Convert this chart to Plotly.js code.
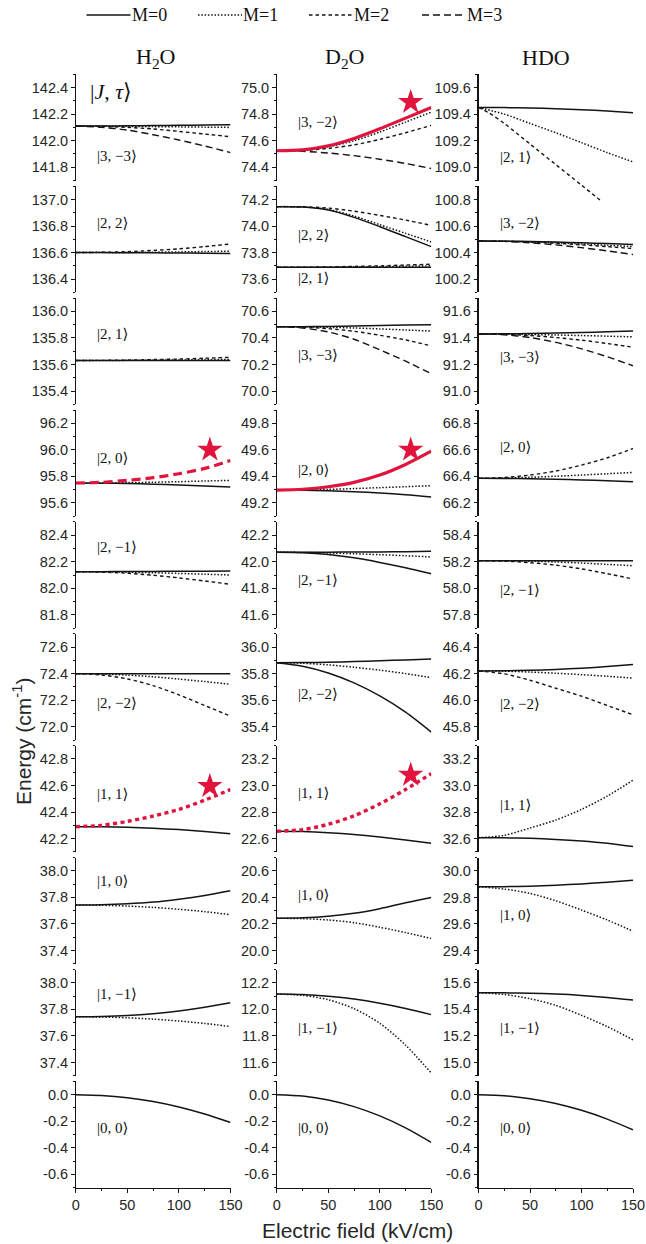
<!DOCTYPE html>
<html><head><meta charset="utf-8">
<script src="https://cdn.plot.ly/plotly-3.0.1.min.js"></script>
<style>html,body{margin:0;padding:0;background:#fff}</style>
</head><body><div id="chart" style="width:646px;height:1244px"></div>
<script>
// ---------------- DATA ----------------
const FIELD = [0, 25, 50, 75, 100, 125, 150];
const FIELD_HDO_R1_M2 = [0, 10, 25, 50, 75, 100, 120];

const MOLECULES = ['H<sub>2</sub>O', 'D<sub>2</sub>O', 'HDO'];
const MOL_TITLE_X = [155, 344, 546];

// axis lower bounds for each row (range is lower..lower+0.8)
const H2O_YMIN = [141.7, 136.3, 135.3, 95.5, 81.7, 71.9, 42.1, 37.3, 37.3, -0.7];
const D2O_YMIN = [74.3, 73.5, 69.9, 49.1, 41.5, 35.3, 22.5, 19.9, 11.5, -0.7];
const HDO_YMIN = [108.9, 100.1, 90.9, 66.1, 57.7, 45.7, 32.5, 29.3, 14.9, -0.7];

// state labels
const H2O_LABELS = ['|3, −3⟩', '|2, 2⟩', '|2, 1⟩', '|2, 0⟩', '|2, −1⟩', '|2, −2⟩', '|1, 1⟩', '|1, 0⟩', '|1, −1⟩', '|0, 0⟩'];
const H2O_LABEL_Y = [141.886, 136.82, 135.83, 95.94, 82.31, 72.18, 42.535, 37.92, 37.915, -0.254];
const D2O_LABELS = ['|3, −2⟩', '|2, 2⟩', '|3, −3⟩', '|2, 0⟩', '|2, −1⟩', '|2, −2⟩', '|1, 1⟩', '|1, 0⟩', '|1, −1⟩', '|0, 0⟩'];
const D2O_LABEL_Y = [74.74, 73.93, 70.27, 49.45, 41.86, 35.645, 22.94, 20.42, 11.856, -0.254];
const D2O_EXTRA_LABEL = '|2, 1⟩';
const D2O_EXTRA_LABEL_Y = 73.605;
const HDO_LABELS = ['|2, 1⟩', '|3, −2⟩', '|3, −3⟩', '|2, 0⟩', '|2, −1⟩', '|2, −2⟩', '|1, 1⟩', '|1, 0⟩', '|1, −1⟩', '|0, 0⟩'];
const HDO_LABEL_Y = [109.08, 100.625, 91.255, 66.62, 57.99, 45.97, 32.85, 29.67, 15.26, -0.254];

// ---- H2O ----
const H2O_R1_M0 = [142.11, 142.11, 142.112, 142.114, 142.116, 142.118, 142.12];
const H2O_R1_M1 = [142.11, 142.11, 142.108, 142.106, 142.104, 142.102, 142.10];
const H2O_R1_M2 = [142.11, 142.108, 142.10, 142.088, 142.07, 142.05, 142.03];
const H2O_R1_M3 = [142.11, 142.10, 142.08, 142.045, 142.005, 141.96, 141.91];
const H2O_R2_M0 = [136.60, 136.60, 136.599, 136.598, 136.597, 136.595, 136.593];
const H2O_R2_M1 = [136.60, 136.60, 136.601, 136.603, 136.605, 136.608, 136.61];
const H2O_R2_M2 = [136.60, 136.602, 136.607, 136.616, 136.628, 136.645, 136.665];
const H2O_R3_M0 = [135.63, 135.63, 135.63, 135.63, 135.63, 135.63, 135.63];
const H2O_R3_M1 = [135.63, 135.63, 135.631, 135.632, 135.634, 135.636, 135.638];
const H2O_R3_M2 = [135.63, 135.631, 135.633, 135.637, 135.641, 135.647, 135.654];
const H2O_R4_M0 = [95.75, 95.749, 95.746, 95.741, 95.735, 95.727, 95.72];
const H2O_R4_M1 = [95.75, 95.751, 95.753, 95.756, 95.76, 95.765, 95.77];
const H2O_R4_M2 = [95.75, 95.755, 95.77, 95.79, 95.82, 95.86, 95.92];
const H2O_R5_M0 = [82.125, 82.125, 82.126, 82.127, 82.128, 82.129, 82.13];
const H2O_R5_M1 = [82.125, 82.124, 82.121, 82.117, 82.112, 82.106, 82.10];
const H2O_R5_M2 = [82.125, 82.122, 82.113, 82.098, 82.078, 82.055, 82.03];
const H2O_R6_M0 = [72.40, 72.40, 72.40, 72.40, 72.40, 72.40, 72.40];
const H2O_R6_M1 = [72.40, 72.397, 72.389, 72.376, 72.359, 72.34, 72.32];
const H2O_R6_M2 = [72.40, 72.39, 72.36, 72.31, 72.24, 72.16, 72.08];
const H2O_R7_M0 = [42.29, 42.289, 42.285, 42.278, 42.268, 42.254, 42.237];
const H2O_R7_M1 = [42.29, 42.30, 42.33, 42.37, 42.42, 42.49, 42.57];
const H2O_R8_M0 = [37.743, 37.745, 37.752, 37.765, 37.787, 37.815, 37.85];
const H2O_R8_M1 = [37.743, 37.741, 37.735, 37.725, 37.711, 37.693, 37.67];
const H2O_R9_M0 = [37.744, 37.746, 37.753, 37.767, 37.788, 37.816, 37.85];
const H2O_R9_M1 = [37.744, 37.742, 37.736, 37.726, 37.712, 37.694, 37.67];
const H2O_R10_M0 = [0, -0.006, -0.023, -0.052, -0.093, -0.146, -0.21];

// ---- D2O ----
const D2O_R1_M0 = [74.524, 74.531, 74.562, 74.617, 74.69, 74.77, 74.85];
const D2O_R1_M1 = [74.524, 74.528, 74.553, 74.60, 74.665, 74.74, 74.815];
const D2O_R1_M2 = [74.524, 74.527, 74.542, 74.568, 74.61, 74.66, 74.715];
const D2O_R1_M3 = [74.524, 74.52, 74.507, 74.487, 74.46, 74.428, 74.39];
const D2O_R2A_M0 = [74.146, 74.143, 74.12, 74.065, 73.995, 73.92, 73.845];
const D2O_R2A_M1 = [74.146, 74.144, 74.125, 74.075, 74.01, 73.945, 73.88];
const D2O_R2A_M2 = [74.146, 74.145, 74.135, 74.112, 74.08, 74.045, 74.005];
const D2O_R2B_M0 = [73.689, 73.689, 73.689, 73.689, 73.689, 73.689, 73.689];
const D2O_R2B_M1 = [73.689, 73.689, 73.69, 73.692, 73.694, 73.697, 73.70];
const D2O_R2B_M2 = [73.689, 73.69, 73.692, 73.696, 73.70, 73.706, 73.712];
const D2O_R3_M0 = [70.485, 70.485, 70.487, 70.49, 70.493, 70.497, 70.50];
const D2O_R3_M1 = [70.485, 70.484, 70.48, 70.475, 70.468, 70.46, 70.452];
const D2O_R3_M2 = [70.485, 70.481, 70.47, 70.45, 70.42, 70.385, 70.34];
const D2O_R3_M3 = [70.485, 70.475, 70.445, 70.39, 70.31, 70.225, 70.13];
const D2O_R4_UP = [49.297, 49.303, 49.322, 49.355, 49.41, 49.49, 49.59];
const D2O_R4_DOWN = [49.297, 49.296, 49.292, 49.285, 49.275, 49.262, 49.245];
const D2O_R4_M1 = [49.297, 49.298, 49.302, 49.308, 49.315, 49.322, 49.33];
const D2O_R5_UP = [42.071, 42.071, 42.072, 42.073, 42.074, 42.076, 42.078];
const D2O_R5_M1 = [42.071, 42.07, 42.066, 42.06, 42.053, 42.045, 42.036];
const D2O_R5_DOWN = [42.071, 42.068, 42.055, 42.03, 41.995, 41.955, 41.91];
const D2O_R6_UP = [35.882, 35.883, 35.886, 35.891, 35.897, 35.903, 35.91];
const D2O_R6_M1 = [35.882, 35.878, 35.866, 35.848, 35.826, 35.80, 35.77];
const D2O_R6_DOWN = [35.882, 35.855, 35.805, 35.73, 35.632, 35.51, 35.36];
const D2O_R7_M0 = [22.655, 22.653, 22.645, 22.632, 22.613, 22.59, 22.565];
const D2O_R7_M1 = [22.655, 22.668, 22.708, 22.772, 22.862, 22.97, 23.09];
const D2O_R8_M0 = [20.243, 20.246, 20.258, 20.28, 20.315, 20.36, 20.40];
const D2O_R8_M1 = [20.243, 20.24, 20.23, 20.21, 20.175, 20.135, 20.09];
const D2O_R9_M0 = [12.115, 12.111, 12.098, 12.077, 12.046, 12.007, 11.96];
const D2O_R9_M1 = [12.115, 12.105, 12.072, 12.005, 11.895, 11.73, 11.52];
const D2O_R10_M0 = [0, -0.01, -0.04, -0.09, -0.16, -0.25, -0.36];

// ---- HDO ----
const HDO_R1_M0 = [109.45, 109.449, 109.446, 109.441, 109.433, 109.423, 109.41];
const HDO_R1_M1 = [109.45, 109.40, 109.33, 109.26, 109.185, 109.11, 109.04];
const HDO_R1_M2 = [109.45, 109.41, 109.33, 109.175, 109.02, 108.865, 108.74];
const HDO_R2_M0 = [100.487, 100.486, 100.483, 100.479, 100.474, 100.468, 100.46];
const HDO_R2_M1 = [100.487, 100.486, 100.481, 100.474, 100.465, 100.455, 100.445];
const HDO_R2_M2 = [100.487, 100.485, 100.479, 100.47, 100.458, 100.445, 100.43];
const HDO_R2_M3 = [100.487, 100.484, 100.474, 100.458, 100.437, 100.413, 100.385];
const HDO_R3_M0 = [91.43, 91.431, 91.433, 91.437, 91.441, 91.446, 91.452];
const HDO_R3_M1 = [91.43, 91.429, 91.426, 91.422, 91.418, 91.413, 91.408];
const HDO_R3_M2 = [91.43, 91.427, 91.418, 91.403, 91.383, 91.358, 91.33];
const HDO_R3_M3 = [91.43, 91.424, 91.403, 91.367, 91.318, 91.258, 91.19];
const HDO_R4_M0 = [66.385, 66.384, 66.382, 66.378, 66.373, 66.367, 66.36];
const HDO_R4_M1 = [66.385, 66.387, 66.393, 66.401, 66.41, 66.42, 66.43];
const HDO_R4_M2 = [66.385, 66.392, 66.41, 66.44, 66.485, 66.54, 66.61];
const HDO_R5_M0 = [58.208, 58.208, 58.208, 58.208, 58.208, 58.208, 58.208];
const HDO_R5_M1 = [58.208, 58.207, 58.204, 58.198, 58.19, 58.18, 58.17];
const HDO_R5_M2 = [58.208, 58.204, 58.193, 58.174, 58.146, 58.11, 58.07];
const HDO_R6_M0 = [46.22, 46.221, 46.225, 46.232, 46.241, 46.253, 46.268];
const HDO_R6_M1 = [46.22, 46.218, 46.212, 46.203, 46.192, 46.18, 46.166];
const HDO_R6_M2 = [46.22, 46.198, 46.15, 46.09, 46.03, 45.96, 45.89];
const HDO_R7_M0 = [32.607, 32.606, 32.602, 32.594, 32.582, 32.565, 32.54];
const HDO_R7_M1 = [32.607, 32.625, 32.68, 32.74, 32.82, 32.92, 33.04];
const HDO_R8_M0 = [29.88, 29.881, 29.885, 29.892, 29.902, 29.915, 29.93];
const HDO_R8_M1 = [29.88, 29.863, 29.83, 29.775, 29.705, 29.63, 29.545];
const HDO_R9_M0 = [15.525, 15.524, 15.521, 15.515, 15.505, 15.49, 15.47];
const HDO_R9_M1 = [15.525, 15.512, 15.48, 15.43, 15.355, 15.27, 15.17];
const HDO_R10_M0 = [0, -0.0075, -0.03, -0.066, -0.118, -0.184, -0.265];

// highlighted-state stars
const STAR_COL = [0, 0, 1, 1, 1];
const STAR_ROW = [3, 6, 0, 3, 6];
const STAR_X = [130, 130, 130, 130, 130];
const STAR_Y = [96.0, 42.595, 74.89, 49.60, 23.08];

const LEGEND_NAMES = ['M=0', 'M=1', 'M=2', 'M=3'];

// ---------------- LAYOUT / STYLE ----------------
const W = 646, H = 1244;
const COL_PX = [[75.7, 230.5], [276.8, 431.3], [478.5, 633]];
const ROW_TOP0 = 74.3, ROW_PITCH = 111.9, ROW_H = 106.2;
const SPAN = 0.8;
const RED = '#e0143c', INK = '#141414', TXT = '#262626';
const SERIF = 'Liberation Serif, DejaVu Serif, serif';
const SANS = 'Liberation Sans, Arial, sans-serif';
const STYLE = [
  {dash: 'solid', width: 1.5},
  {dash: '1.5px,1.8px', width: 1.5},
  {dash: '3.5px,3px', width: 1.4},
  {dash: '7px,4px', width: 1.4}
];
const RED_STYLE = [
  {dash: 'solid', width: 3.2},
  {dash: '4px,3.5px', width: 3.4},
  {dash: '9px,5px', width: 3.2}
];
const YMIN = [H2O_YMIN, D2O_YMIN, HDO_YMIN];

// curve table: [col, row, style, xs, ys, red, axisOverride]
const CURVES = [
  [0,0,0,FIELD,H2O_R1_M0,false],[0,0,1,FIELD,H2O_R1_M1,false],[0,0,2,FIELD,H2O_R1_M2,false],[0,0,3,FIELD,H2O_R1_M3,false],
  [0,1,0,FIELD,H2O_R2_M0,false],[0,1,1,FIELD,H2O_R2_M1,false],[0,1,2,FIELD,H2O_R2_M2,false],
  [0,2,0,FIELD,H2O_R3_M0,false],[0,2,1,FIELD,H2O_R3_M1,false],[0,2,2,FIELD,H2O_R3_M2,false],
  [0,3,0,FIELD,H2O_R4_M0,false],[0,3,1,FIELD,H2O_R4_M1,false],[0,3,2,FIELD,H2O_R4_M2,true],
  [0,4,0,FIELD,H2O_R5_M0,false],[0,4,1,FIELD,H2O_R5_M1,false],[0,4,2,FIELD,H2O_R5_M2,false],
  [0,5,0,FIELD,H2O_R6_M0,false],[0,5,1,FIELD,H2O_R6_M1,false],[0,5,2,FIELD,H2O_R6_M2,false],
  [0,6,0,FIELD,H2O_R7_M0,false],[0,6,1,FIELD,H2O_R7_M1,true],
  [0,7,0,FIELD,H2O_R8_M0,false],[0,7,1,FIELD,H2O_R8_M1,false],
  [0,8,0,FIELD,H2O_R9_M0,false],[0,8,1,FIELD,H2O_R9_M1,false],
  [0,9,0,FIELD,H2O_R10_M0,false],

  [1,0,3,FIELD,D2O_R1_M3,false],[1,0,2,FIELD,D2O_R1_M2,false],[1,0,1,FIELD,D2O_R1_M1,false],[1,0,0,FIELD,D2O_R1_M0,true],
  [1,1,0,FIELD,D2O_R2A_M0,false],[1,1,1,FIELD,D2O_R2A_M1,false],[1,1,2,FIELD,D2O_R2A_M2,false],
  [1,1,0,FIELD,D2O_R2B_M0,false],[1,1,1,FIELD,D2O_R2B_M1,false],[1,1,2,FIELD,D2O_R2B_M2,false],
  [1,2,0,FIELD,D2O_R3_M0,false],[1,2,1,FIELD,D2O_R3_M1,false],[1,2,2,FIELD,D2O_R3_M2,false],[1,2,3,FIELD,D2O_R3_M3,false],
  [1,3,0,FIELD,D2O_R4_DOWN,false],[1,3,1,FIELD,D2O_R4_M1,false],[1,3,0,FIELD,D2O_R4_UP,true],
  [1,4,0,FIELD,D2O_R5_UP,false],[1,4,1,FIELD,D2O_R5_M1,false],[1,4,0,FIELD,D2O_R5_DOWN,false],
  [1,5,0,FIELD,D2O_R6_UP,false],[1,5,1,FIELD,D2O_R6_M1,false],[1,5,0,FIELD,D2O_R6_DOWN,false],
  [1,6,0,FIELD,D2O_R7_M0,false],[1,6,1,FIELD,D2O_R7_M1,true],
  [1,7,0,FIELD,D2O_R8_M0,false],[1,7,1,FIELD,D2O_R8_M1,false],
  [1,8,0,FIELD,D2O_R9_M0,false],[1,8,1,FIELD,D2O_R9_M1,false],
  [1,9,0,FIELD,D2O_R10_M0,false],

  [2,0,0,FIELD,HDO_R1_M0,false],[2,0,1,FIELD,HDO_R1_M1,false],[2,0,2,FIELD_HDO_R1_M2,HDO_R1_M2,false,'overflow'],
  [2,1,0,FIELD,HDO_R2_M0,false],[2,1,1,FIELD,HDO_R2_M1,false],[2,1,2,FIELD,HDO_R2_M2,false],[2,1,3,FIELD,HDO_R2_M3,false],
  [2,2,0,FIELD,HDO_R3_M0,false],[2,2,1,FIELD,HDO_R3_M1,false],[2,2,2,FIELD,HDO_R3_M2,false],[2,2,3,FIELD,HDO_R3_M3,false],
  [2,3,0,FIELD,HDO_R4_M0,false],[2,3,1,FIELD,HDO_R4_M1,false],[2,3,2,FIELD,HDO_R4_M2,false],
  [2,4,0,FIELD,HDO_R5_M0,false],[2,4,1,FIELD,HDO_R5_M1,false],[2,4,2,FIELD,HDO_R5_M2,false],
  [2,5,0,FIELD,HDO_R6_M0,false],[2,5,1,FIELD,HDO_R6_M1,false],[2,5,2,FIELD,HDO_R6_M2,false],
  [2,6,0,FIELD,HDO_R7_M0,false],[2,6,1,FIELD,HDO_R7_M1,false],
  [2,7,0,FIELD,HDO_R8_M0,false],[2,7,1,FIELD,HDO_R8_M1,false],
  [2,8,0,FIELD,HDO_R9_M0,false],[2,8,1,FIELD,HDO_R9_M1,false],
  [2,9,0,FIELD,HDO_R10_M0,false]
];

function idx(c, r) { return r * 3 + c + 1; }
function sfx(k) { return k === 1 ? '' : String(k); }
function rowTopPx(r) { return ROW_TOP0 + r * ROW_PITCH; }
function fy(px) { return 1 - px / H; }
function fx(px) { return px / W; }

const layout = {
  width: W, height: H,
  margin: {l: 0, r: 0, t: 0, b: 0},
  paper_bgcolor: '#ffffff', plot_bgcolor: 'rgba(0,0,0,0)',
  showlegend: false,
  annotations: [], shapes: []
};

for (let c = 0; c < 3; c++) {
  for (let r = 0; r < 10; r++) {
    const k = idx(c, r);
    const ymin = YMIN[c][r];
    const top = rowTopPx(r), bot = top + ROW_H;
    const bottomRow = (r === 9);
    layout['xaxis' + sfx(k)] = {
      domain: [fx(COL_PX[c][0]), fx(COL_PX[c][1])],
      range: [0, 150], anchor: 'y' + sfx(k),
      visible: bottomRow,
      showgrid: false, zeroline: false,
      showline: true, linecolor: INK, linewidth: 1.2,
      ticks: 'outside', ticklen: 4, tickwidth: 1, tickcolor: INK,
      tickmode: 'array', tickvals: [0, 50, 100, 150], ticktext: ['0', '50', '100', '150'],
      minor: {tickmode: 'linear', tick0: 0, dtick: 25, ticks: 'outside', ticklen: 2.5, tickcolor: INK, showgrid: false},
      tickfont: {family: SANS, size: 14.5, color: TXT}
    };
    const tv = [], tt = [];
    for (let j = 0; j < 4; j++) {
      const v = Math.round((ymin + 0.1 + 0.2 * j) * 10) / 10;
      tv.push(v); tt.push(v.toFixed(1));
    }
    layout['yaxis' + sfx(k)] = {
      domain: [fy(bot), fy(top)],
      range: [ymin, ymin + SPAN], anchor: 'x' + sfx(k),
      showgrid: false, zeroline: false,
      showline: true, linecolor: INK, linewidth: 1.2,
      ticks: 'outside', ticklen: 3.5, tickwidth: 1, tickcolor: INK,
      tickmode: 'array', tickvals: tv, ticktext: tt,
      minor: {tickmode: 'linear', tick0: ymin, dtick: 0.1, ticks: 'outside', ticklen: 2, tickcolor: INK, showgrid: false},
      tickfont: {family: SANS, size: 14.5, color: TXT}
    };
  }
}

// overflow axis for HDO top panel (its M=2 line runs below the frame)
const OVER_PX = 26;
{
  const k = idx(2, 0);
  const top = rowTopPx(0), bot = top + ROW_H + OVER_PX;
  const ymin = HDO_YMIN[0];
  layout['yaxis31'] = {
    domain: [fy(bot), fy(top)],
    range: [ymin - OVER_PX * SPAN / ROW_H, ymin + SPAN],
    anchor: 'x' + sfx(k), visible: false, showgrid: false, zeroline: false
  };
}

const traces = [];
CURVES.forEach(([c, r, st, xs, ys, red, over]) => {
  const k = idx(c, r);
  const s = red ? RED_STYLE[st] : STYLE[st];
  traces.push({
    type: 'scatter', mode: 'lines',
    x: xs, y: ys,
    xaxis: 'x' + sfx(k), yaxis: over ? 'y31' : 'y' + sfx(k),
    line: {color: red ? RED : INK, width: s.width, dash: s.dash, shape: 'spline', smoothing: 0.8},
    name: LEGEND_NAMES[st], showlegend: false, hoverinfo: 'skip'
  });
});

STAR_X.forEach((sx, i) => {
  const k = idx(STAR_COL[i], STAR_ROW[i]);
  traces.push({
    type: 'scatter', mode: 'markers', x: [sx], y: [STAR_Y[i]],
    xaxis: 'x' + sfx(k), yaxis: 'y' + sfx(k), cliponaxis: false,
    marker: {symbol: 'star', size: 19, color: RED, line: {width: 0}},
    showlegend: false, hoverinfo: 'skip'
  });
});

// state labels
const LABELS = [H2O_LABELS, D2O_LABELS, HDO_LABELS];
const LABEL_Y = [H2O_LABEL_Y, D2O_LABEL_Y, HDO_LABEL_Y];
for (let c = 0; c < 3; c++) {
  for (let r = 0; r < 10; r++) {
    const k = idx(c, r);
    layout.annotations.push({
      xref: 'x' + sfx(k), yref: 'y' + sfx(k), x: 19, y: LABEL_Y[c][r],
      xanchor: 'left', yanchor: 'middle', showarrow: false,
      text: LABELS[c][r], font: {family: SERIF, size: 15, color: '#111'}
    });
  }
}
layout.annotations.push({
  xref: 'x' + sfx(idx(1, 1)), yref: 'y' + sfx(idx(1, 1)), x: 19, y: D2O_EXTRA_LABEL_Y,
  xanchor: 'left', yanchor: 'middle', showarrow: false,
  text: D2O_EXTRA_LABEL, font: {family: SERIF, size: 15, color: '#111'}
});
layout.annotations.push({
  xref: 'x', yref: 'y', x: 12, y: 142.37, xanchor: 'left', yanchor: 'middle', showarrow: false,
  text: '|<i>J</i>, <i>τ</i>⟩', font: {family: SERIF, size: 22, color: '#111'}
});

// column titles
MOLECULES.forEach((m, i) => {
  layout.annotations.push({
    xref: 'paper', yref: 'paper', x: fx(MOL_TITLE_X[i]), y: fy(58),
    xanchor: 'center', yanchor: 'middle', showarrow: false,
    text: m, font: {family: SERIF, size: 22, color: '#111'}
  });
});

// axis titles
layout.annotations.push({
  xref: 'paper', yref: 'paper', x: fx(22), y: fy(742), xanchor: 'center', yanchor: 'middle',
  showarrow: false, textangle: -90,
  text: 'Energy (cm<sup>-1</sup>)', font: {family: SANS, size: 21, color: TXT}
});
layout.annotations.push({
  xref: 'paper', yref: 'paper', x: fx(357), y: fy(1230), xanchor: 'center', yanchor: 'middle',
  showarrow: false, text: 'Electric field (kV/cm)', font: {family: SANS, size: 21, color: TXT}
});

// legend (line samples + labels along the top)
const LEG_X = [86.5, 198, 309, 422];
const LEG_LEN = 44, LEG_Y = 15;
LEGEND_NAMES.forEach((nm, i) => {
  layout.shapes.push({
    type: 'line', xref: 'paper', yref: 'paper',
    x0: fx(LEG_X[i]), x1: fx(LEG_X[i] + LEG_LEN), y0: fy(LEG_Y), y1: fy(LEG_Y),
    line: {color: INK, width: STYLE[i].width + 0.1, dash: STYLE[i].dash}
  });
  layout.annotations.push({
    xref: 'paper', yref: 'paper', x: fx(LEG_X[i] + LEG_LEN - 1), y: fy(LEG_Y),
    xanchor: 'left', yanchor: 'middle', showarrow: false,
    text: nm, font: {family: SERIF, size: 18, color: '#111'}
  });
});

Plotly.newPlot('chart', traces, layout, {displayModeBar: false, staticPlot: true});
</script></body></html>
